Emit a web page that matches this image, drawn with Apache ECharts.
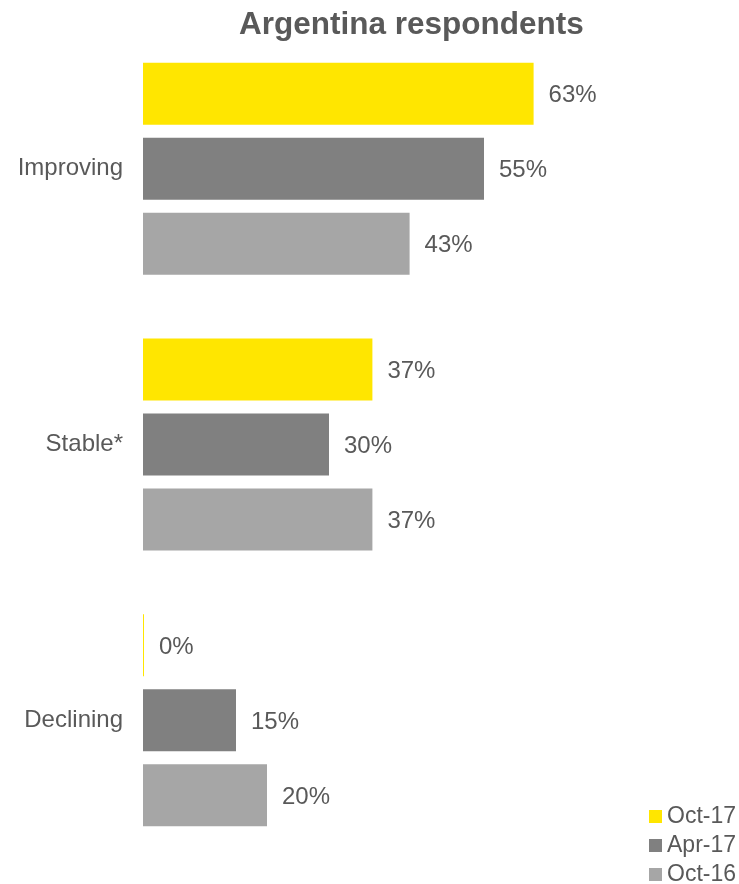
<!DOCTYPE html>
<html>
<head>
<meta charset="utf-8">
<script src="https://cdn.jsdelivr.net/npm/echarts@6/dist/echarts.min.js"></script>
<style>html,body{margin:0;padding:0;background:#fff;}#c{width:739px;height:884px;}</style>
</head>
<body>
<div id="c"></div>
<script>
const categories = ['Improving', 'Stable*', 'Declining'];
const seriesNames = ['Oct-17', 'Apr-17', 'Oct-16'];
const oct17 = [63, 37, 0];
const apr17 = [55, 30, 15];
const oct16 = [43, 37, 20];
const colors = ['#FFE600', '#808080', '#A6A6A6'];
const values = [oct17, apr17, oct16];
const textColor = '#595959';
const font = 'Liberation Sans, Arial, sans-serif';

const chart = echarts.init(document.getElementById('c'));
chart.setOption({
  animation: false,
  title: {
    text: 'Argentina respondents',
    left: 234, top: 4,
    textStyle: { fontFamily: font, fontSize: 31.5, fontWeight: 'bold', color: textColor }
  },
  legend: {
    orient: 'vertical',
    left: 649, bottom: -2,
    padding: 0,
    icon: 'rect',
    itemWidth: 13, itemHeight: 13, itemGap: 6,
    textStyle: { fontFamily: font, fontSize: 23, color: textColor, lineHeight: 22 },
    data: seriesNames
  },
  grid: { left: 143, right: 162, top: 31, bottom: 26 },
  xAxis: { type: 'value', min: 0, max: 70, show: false },
  yAxis: {
    type: 'category', data: categories, inverse: true,
    axisLine: { show: false }, axisTick: { show: false },
    axisLabel: { fontFamily: font, fontSize: 24, color: textColor, margin: 20, padding: [3, 0, 0, 0] }
  },
  series: seriesNames.map((n, i) => ({
    name: n, type: 'bar', data: values[i],
    barWidth: 62, barGap: '21%', barMinHeight: 1,
    itemStyle: { color: colors[i] },
    label: { show: true, position: 'right', distance: 15, formatter: '{c}%', offset: [0, 2],
      fontFamily: font, fontSize: 24, color: textColor }
  }))
});
</script>
</body>
</html>
